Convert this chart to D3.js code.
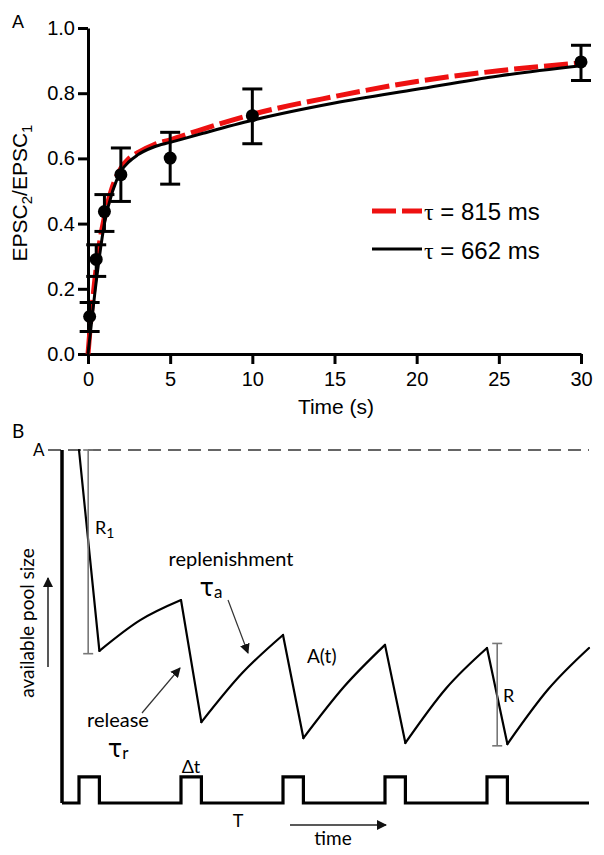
<!DOCTYPE html>
<html>
<head>
<meta charset="utf-8">
<script src="https://cdn.jsdelivr.net/npm/d3@7"></script>
<style>
  body { margin: 0; background: #fff; }
  svg { display: block; }
</style>
</head>
<body>
<div id="chart"></div>
<script>
// ---- panel A: paired-pulse recovery ----
const times = [0.1, 0.5, 1, 2, 5, 10, 30];
const ratios = [0.115, 0.29, 0.437, 0.55, 0.601, 0.731, 0.896];
const errLow = [0.069, 0.238, 0.376, 0.468, 0.521, 0.645, 0.839];
const errHigh = [0.158, 0.335, 0.489, 0.632, 0.68, 0.813, 0.947];

// fitted curves
const fitT = [0, 0.2, 0.4, 0.7, 1, 1.5, 2, 2.5, 3, 4, 5, 7, 10, 15, 20, 25, 30];
const fit662 = [0, 0.09, 0.18, 0.3, 0.4, 0.5, 0.56, 0.59, 0.61, 0.635, 0.649, 0.677, 0.717, 0.77, 0.812, 0.853, 0.884];
const fit815 = [0, 0.12, 0.22, 0.34, 0.42, 0.515, 0.57, 0.6, 0.617, 0.642, 0.657, 0.69, 0.735, 0.79, 0.836, 0.869, 0.893];

const xTicksA = [0, 5, 10, 15, 20, 25, 30];
const yTicksA = [0, 0.2, 0.4, 0.6, 0.8, 1.0];
const legendLabels = ["815 ms", "662 ms"];

// ---- panel B: schematic of pool depletion ----
const releaseStart = [0, 1, 2, 3, 4];
const releaseEnd = [0.2, 1.2, 2.2, 3.2, 4.2];
const peakValue = [1.0, 0.575, 0.476, 0.448, 0.439];
const troughValue = [0.431, 0.229, 0.184, 0.17, 0.167];
const recoveryMid = [0.518, 0.368, 0.33, 0.325, 0.322];
const lastPeak = 0.439;
const pulseHigh = 0.074;

const width = 604;
const height = 855;

const svg = d3.select("#chart")
    .append("svg")
    .attr("width", width)
    .attr("height", height);

const arial = "'Liberation Sans', Arial, sans-serif";
const calibri = "Lato, 'Open Sans', sans-serif";

// ================= panel A =================
const x = d3.scaleLinear().domain([0, 30]).range([88, 581]);
const y = d3.scaleLinear().domain([0, 1]).range([354, 28]);

svg.append("text").attr("x", 12).attr("y", 28)
    .attr("font-family", arial).attr("font-size", 18).text("A");

let gx = svg.append("g")
    .attr("transform", "translate(0," + y(0) + ")")
    .call(d3.axisBottom(x).tickValues(xTicksA).tickSize(10).tickSizeOuter(0).tickPadding(8));
let gy = svg.append("g")
    .attr("transform", "translate(" + x(0) + ",0)")
    .call(d3.axisLeft(y).tickValues(yTicksA).tickSize(10).tickSizeOuter(0).tickPadding(3)
        .tickFormat(d3.format(".1f")));

for (let g of [gx, gy]) {
    g.selectAll("path, line").attr("stroke", "#000").attr("stroke-width", 3);
    g.selectAll("text").attr("font-family", arial).attr("font-size", 20).attr("fill", "#000");
}

// axis titles
svg.append("text")
    .attr("x", 336).attr("y", 414)
    .attr("text-anchor", "middle")
    .attr("font-family", arial).attr("font-size", 21)
    .text("Time (s)");

let ylab = svg.append("text")
    .attr("transform", "translate(27,193) rotate(-90)")
    .attr("text-anchor", "middle")
    .attr("font-family", arial).attr("font-size", 21);
ylab.append("tspan").text("EPSC");
ylab.append("tspan").attr("font-size", 15).attr("dy", 5).text("2");
ylab.append("tspan").attr("dy", -5).text("/EPSC");
ylab.append("tspan").attr("font-size", 15).attr("dy", 5).text("1");

// fits
const fitLine = d3.line()
    .x(function (d, i) { return x(fitT[i]); })
    .y(function (d) { return y(d); })
    .curve(d3.curveMonotoneX);

svg.append("path")
    .attr("d", fitLine(fit815))
    .attr("fill", "none")
    .attr("stroke", "#ee1111")
    .attr("stroke-width", 5)
    .attr("stroke-dasharray", "24,6");

svg.append("path")
    .attr("d", fitLine(fit662))
    .attr("fill", "none")
    .attr("stroke", "#000")
    .attr("stroke-width", 3);

// error bars and points
let pts = svg.append("g");
times.forEach(function (t, i) {
    pts.append("line")
        .attr("x1", x(t)).attr("x2", x(t))
        .attr("y1", y(errLow[i])).attr("y2", y(errHigh[i]))
        .attr("stroke", "#000").attr("stroke-width", 3);
    for (let v of [errLow[i], errHigh[i]]) {
        pts.append("line")
            .attr("x1", x(t) - 10).attr("x2", x(t) + 10)
            .attr("y1", y(v)).attr("y2", y(v))
            .attr("stroke", "#000").attr("stroke-width", 3);
    }
    pts.append("circle")
        .attr("cx", x(t)).attr("cy", y(ratios[i]))
        .attr("r", 6.5).attr("fill", "#000");
});

// legend
let leg = svg.append("g");
leg.append("line").attr("x1", 372).attr("x2", 422).attr("y1", 211).attr("y2", 211)
    .attr("stroke", "#ee1111").attr("stroke-width", 5).attr("stroke-dasharray", "24,6");
leg.append("line").attr("x1", 372).attr("x2", 422).attr("y1", 249).attr("y2", 249)
    .attr("stroke", "#000").attr("stroke-width", 3);
legendLabels.forEach(function (lab, i) {
    let t = leg.append("text")
        .attr("x", 424).attr("y", 220 + i * 39)
        .attr("font-family", arial).attr("font-size", 24);
    t.append("tspan").attr("font-family", "'Liberation Serif', serif").text("\u03c4");
    t.append("tspan").text(" = " + lab);
});

// ================= panel B =================
const xb = d3.scaleLinear().domain([0, 5]).range([79, 589]);
const yb = d3.scaleLinear().domain([0, 1]).range([803, 450]);

svg.append("defs").append("marker")
    .attr("id", "arrow")
    .attr("viewBox", "0 0 10 10")
    .attr("refX", 9).attr("refY", 5)
    .attr("markerWidth", 10).attr("markerHeight", 10)
    .attr("markerUnits", "userSpaceOnUse")
    .attr("orient", "auto")
    .append("path").attr("d", "M0,0L10,5L0,10Z").attr("fill", "#111");

svg.append("text").attr("x", 12).attr("y", 438)
    .attr("font-family", calibri).attr("font-size", 19).text("B");

// A level
svg.append("line")
    .attr("x1", 48).attr("x2", xb(5))
    .attr("y1", yb(1)).attr("y2", yb(1))
    .attr("stroke", "#333").attr("stroke-width", 1.4)
    .attr("stroke-dasharray", "13,7");
svg.append("text").attr("x", 33).attr("y", 456)
    .attr("font-family", calibri).attr("font-size", 17).text("A");

// vertical axis
svg.append("line")
    .attr("x1", 62).attr("x2", 62)
    .attr("y1", yb(1)).attr("y2", yb(0))
    .attr("stroke", "#000").attr("stroke-width", 3.5);

// stimulus train
let train = [[-0.167, 0]];
releaseStart.forEach(function (s, i) {
    train.push([s, 0], [s, pulseHigh], [releaseEnd[i], pulseHigh], [releaseEnd[i], 0]);
});
train.push([5, 0]);
svg.append("path")
    .attr("d", d3.line().x(d => xb(d[0])).y(d => yb(d[1]))(train))
    .attr("fill", "none").attr("stroke", "#000").attr("stroke-width", 3.2)
    .attr("stroke-linejoin", "miter");

// pool size A(t)
const straight = d3.line().x(d => xb(d[0])).y(d => yb(d[1]));
const bent = d3.line().x(d => xb(d[0])).y(d => yb(d[1])).curve(d3.curveNatural);
releaseStart.forEach(function (s, i) {
    svg.append("path")
        .attr("d", straight([[s, peakValue[i]], [releaseEnd[i], troughValue[i]]]))
        .attr("fill", "none").attr("stroke", "#000").attr("stroke-width", 2.2)
        .attr("stroke-linecap", "round");
    let nextT = i + 1 < releaseStart.length ? releaseStart[i + 1] : 5;
    let nextV = i + 1 < peakValue.length ? peakValue[i + 1] : lastPeak;
    svg.append("path")
        .attr("d", bent([[releaseEnd[i], troughValue[i]], [releaseEnd[i] + 0.4, recoveryMid[i]], [nextT, nextV]]))
        .attr("fill", "none").attr("stroke", "#000").attr("stroke-width", 2.2)
        .attr("stroke-linecap", "round");
});

// R1 and R brackets
function bracket(xp, v1, v2) {
    svg.append("line").attr("x1", xp).attr("x2", xp).attr("y1", yb(v1)).attr("y2", yb(v2))
        .attr("stroke", "#777").attr("stroke-width", 1.6);
    for (let v of [v1, v2]) {
        svg.append("line").attr("x1", xp - 5).attr("x2", xp + 5).attr("y1", yb(v)).attr("y2", yb(v))
            .attr("stroke", "#777").attr("stroke-width", 1.6);
    }
}
bracket(xb(0.09), 1.0, 0.423);
bracket(xb(4.1), peakValue[4] + 0.013, troughValue[4] - 0.005);

let r1 = svg.append("text").attr("x", 95).attr("y", 534)
    .attr("font-family", calibri).attr("font-size", 18);
r1.append("tspan").text("R");
r1.append("tspan").attr("font-size", 14).attr("dy", 4).text("1");

svg.append("text").attr("x", 503).attr("y", 702)
    .attr("font-family", calibri).attr("font-size", 18).text("R");
svg.append("text").attr("x", 307).attr("y", 663)
    .attr("font-family", calibri).attr("font-size", 19).text("A(t)");

// labels with tau
svg.append("text").attr("x", 231).attr("y", 566).attr("text-anchor", "middle")
    .attr("font-family", calibri).attr("font-size", 20).text("replenishment");
let ta = svg.append("text").attr("x", 211).attr("y", 596).attr("text-anchor", "middle")
    .attr("font-family", calibri).attr("font-size", 24);
ta.append("tspan").attr("font-family", "'DejaVu Sans', sans-serif").text("\u03c4");
ta.append("tspan").attr("font-size", 17).attr("dy", 2).text("a");

svg.append("text").attr("x", 118).attr("y", 727).attr("text-anchor", "middle")
    .attr("font-family", calibri).attr("font-size", 20).text("release");
let tr = svg.append("text").attr("x", 118).attr("y", 757).attr("text-anchor", "middle")
    .attr("font-family", calibri).attr("font-size", 24);
tr.append("tspan").attr("font-family", "'DejaVu Sans', sans-serif").text("\u03c4");
tr.append("tspan").attr("font-size", 17).attr("dy", 2).text("r");

svg.append("line").attr("x1", 228).attr("y1", 600).attr("x2", 248).attr("y2", 653)
    .attr("stroke", "#333").attr("stroke-width", 1.2).attr("marker-end", "url(#arrow)");
svg.append("line").attr("x1", 142).attr("y1", 713).attr("x2", 180).attr("y2", 668)
    .attr("stroke", "#333").attr("stroke-width", 1.2).attr("marker-end", "url(#arrow)");

// pulse labels
svg.append("text").attr("x", 191).attr("y", 773).attr("text-anchor", "middle")
    .attr("font-family", calibri).attr("font-size", 18).text("\u0394t");
svg.append("text").attr("x", 238).attr("y", 827).attr("text-anchor", "middle")
    .attr("font-family", calibri).attr("font-size", 18).text("T");

// time arrow
svg.append("line").attr("x1", 290).attr("y1", 825).attr("x2", 386).attr("y2", 825)
    .attr("stroke", "#222").attr("stroke-width", 1.4).attr("marker-end", "url(#arrow)");
svg.append("text").attr("x", 333).attr("y", 845).attr("text-anchor", "middle")
    .attr("font-family", calibri).attr("font-size", 19).text("time");

// y title with arrow
svg.append("text")
    .attr("transform", "translate(34,623) rotate(-90)")
    .attr("text-anchor", "middle")
    .attr("font-family", calibri).attr("font-size", 19)
    .text("available pool size");
svg.append("line").attr("x1", 48).attr("y1", 667).attr("x2", 48).attr("y2", 578)
    .attr("stroke", "#111").attr("stroke-width", 1.4).attr("marker-end", "url(#arrow)");
</script>
</body>
</html>
